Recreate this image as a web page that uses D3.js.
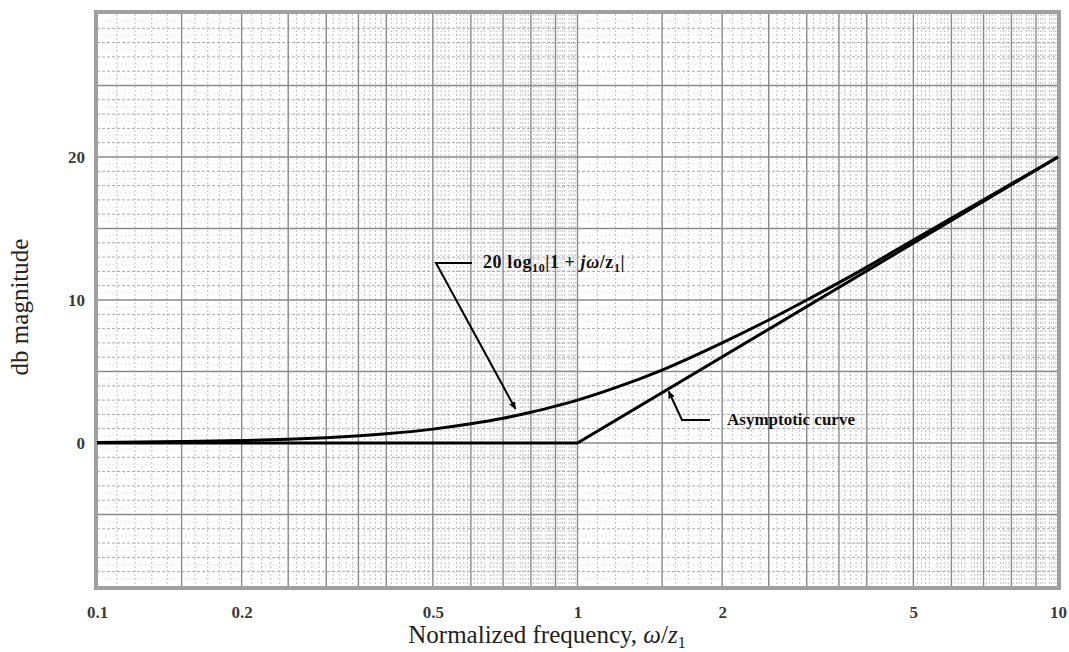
<!DOCTYPE html>
<html>
<head>
<meta charset="utf-8">
<script src="https://cdn.jsdelivr.net/npm/d3@7"></script>
<style>
body { margin: 0; background: #fff; }
svg { display: block; }
</style>
</head>
<body>
<svg id="chart"></svg>
<script>
// values
var freqTicks = [0.1, 0.2, 0.5, 1, 2, 5, 10];
var dbTicks = [0, 10, 20];
var exactFreq = [0.1, 0.15, 0.2, 0.25, 0.3, 0.4, 0.5, 0.6, 0.7, 0.8, 0.9, 1, 1.2, 1.5, 2, 2.5, 3, 4, 5, 7, 10];
var exactDb = [0.04, 0.1, 0.17, 0.26, 0.37, 0.64, 0.97, 1.34, 1.73, 2.15, 2.58, 3.0, 3.87, 5.1, 7.0, 8.6, 10.0, 12.3, 14.2, 17.0, 20.0];
var asymFreq = [0.1, 1, 10];
var asymDb = [0, 0, 20];

var w = 1069;
var h = 652;
var margin = {
	left: 97,
	right: 11,
	top: 14,
	bottom: 66
}

var svg = d3.select("#chart")
	.attr("width", w)
	.attr("height", h);

var xScale = d3.scaleLog()
	.domain([0.1, 10])
	.range([margin.left, w - margin.right]);
var yScale = d3.scaleLinear()
	.domain([-10, 30])
	.range([h - margin.bottom, margin.top]);

// graph paper
var grid = svg.append("g").classed("grid", true);
var heavyV = [];
var lightV = [];
[0.1, 1].forEach(function (d) {
	[1, 1.5, 2, 2.5, 3, 3.5, 4, 5, 6, 7, 8, 9].forEach(function (m) { heavyV.push(d * m); });
	for (var m = 1.1; m < 9.95; m += 0.1) {
		var v = Math.round(m * 10) / 10;
		if (v % 0.5 !== 0) lightV.push(d * v);
	}
});
var lightH = d3.range(-10, 30.1, 1).filter(function (d) { return d % 5 !== 0; });
var heavyH = d3.range(-5, 30, 5);
var halfH = d3.range(-9.5, 30, 1);

grid.selectAll(".lv")
	.data(lightV)
	.enter()
	.append("line")
	.attr("x1", function (d) { return xScale(d); })
	.attr("x2", function (d) { return xScale(d); })
	.attr("y1", margin.top)
	.attr("y2", h - margin.bottom)
	.attr("stroke", "#c4c4c4")
	.attr("stroke-width", 1)
	.attr("stroke-dasharray", "2,2");
grid.selectAll(".hh")
	.data(halfH)
	.enter()
	.append("line")
	.attr("x1", margin.left)
	.attr("x2", w - margin.right)
	.attr("y1", function (d) { return yScale(d); })
	.attr("y2", function (d) { return yScale(d); })
	.attr("stroke", "#d8d8d8")
	.attr("stroke-width", 1)
	.attr("stroke-dasharray", "1,3");
grid.selectAll(".lh")
	.data(lightH)
	.enter()
	.append("line")
	.attr("x1", margin.left)
	.attr("x2", w - margin.right)
	.attr("y1", function (d) { return yScale(d); })
	.attr("y2", function (d) { return yScale(d); })
	.attr("stroke", "#a8a8a8")
	.attr("stroke-width", 1)
	.attr("stroke-dasharray", "3,2");
grid.selectAll(".hv")
	.data(heavyV)
	.enter()
	.append("line")
	.attr("x1", function (d) { return xScale(d); })
	.attr("x2", function (d) { return xScale(d); })
	.attr("y1", margin.top)
	.attr("y2", h - margin.bottom)
	.attr("stroke", "#8a8a8a")
	.attr("stroke-width", 1.4);
grid.selectAll(".hhv")
	.data(heavyH)
	.enter()
	.append("line")
	.attr("x1", margin.left)
	.attr("x2", w - margin.right)
	.attr("y1", function (d) { return yScale(d); })
	.attr("y2", function (d) { return yScale(d); })
	.attr("stroke", "#8a8a8a")
	.attr("stroke-width", 1.4);

svg.append("rect")
	.attr("x", margin.left - 1)
	.attr("y", margin.top - 2)
	.attr("width", w - margin.left - margin.right + 2)
	.attr("height", h - margin.top - margin.bottom + 4)
	.attr("fill", "none")
	.attr("stroke", "#a0a0a0")
	.attr("stroke-width", 4);

// curves
var line = d3.line()
	.x(function (d) { return xScale(d[0]); })
	.y(function (d) { return yScale(d[1]); });
svg.append("path")
	.datum(d3.zip(exactFreq, exactDb))
	.attr("d", line.curve(d3.curveMonotoneX))
	.attr("fill", "none")
	.attr("stroke", "#000")
	.attr("stroke-width", 3);
svg.append("path")
	.datum(d3.zip(asymFreq, asymDb))
	.attr("d", line.curve(d3.curveLinear))
	.attr("fill", "none")
	.attr("stroke", "#000")
	.attr("stroke-width", 3);

// axes
var xAxis = d3.axisBottom(xScale)
	.tickValues(freqTicks)
	.tickSize(0)
	.tickPadding(20)
	.tickFormat(function (d) { return String(d); });
svg.append("g")
	.classed("xAxis", true)
	.attr("transform", "translate(0," + (h - margin.bottom) + ")")
	.call(xAxis)
	.call(function (g) { g.select(".domain").remove(); })
	.selectAll("text")
	.attr("font-family", "Liberation Serif")
	.attr("font-size", 17)
	.attr("font-weight", "bold")
	.attr("fill", "#3a3a3a");
var yAxis = d3.axisLeft(yScale)
	.tickValues(dbTicks)
	.tickSize(0)
	.tickPadding(12);
svg.append("g")
	.classed("yAxis", true)
	.attr("transform", "translate(" + margin.left + ",0)")
	.call(yAxis)
	.call(function (g) { g.select(".domain").remove(); })
	.selectAll("text")
	.attr("font-family", "Liberation Serif")
	.attr("font-size", 17)
	.attr("font-weight", "bold")
	.attr("fill", "#3a3a3a");

svg.append("text")
	.attr("x", 547)
	.attr("y", 643)
	.attr("text-anchor", "middle")
	.attr("font-family", "Liberation Serif")
	.attr("font-size", 25)
	.attr("fill", "#222")
	.html("Normalized frequency, <tspan font-style='italic'>ω</tspan>/<tspan font-style='italic'>z</tspan><tspan font-size='16' dy='5'>1</tspan>");
svg.append("text")
	.attr("transform", "translate(28,307) rotate(-90)")
	.attr("text-anchor", "middle")
	.attr("font-family", "Liberation Serif")
	.attr("font-size", 25)
	.attr("fill", "#222")
	.text("db magnitude");

// annotations
svg.append("defs").append("marker")
	.attr("id", "arrow")
	.attr("viewBox", "0 0 10 10")
	.attr("refX", 10)
	.attr("refY", 5)
	.attr("markerWidth", 7)
	.attr("markerHeight", 7)
	.attr("markerUnits", "userSpaceOnUse")
	.attr("orient", "auto")
	.append("path")
	.attr("d", "M0,0L10,5L0,10z")
	.attr("fill", "#000");

var exactTip = [0.75, 2.1];
var asymTip = [1.54, 3.9];
svg.append("path")
	.attr("d", "M472,263L436,263L" + (xScale(exactTip[0]) - 2) + "," + (yScale(exactTip[1]) - 4))
	.attr("fill", "none")
	.attr("stroke", "#000")
	.attr("stroke-width", 2)
	.attr("marker-end", "url(#arrow)");
svg.append("path")
	.attr("d", "M710,420L682,420L" + (xScale(asymTip[0]) + 1) + "," + (yScale(asymTip[1]) + 4))
	.attr("fill", "none")
	.attr("stroke", "#000")
	.attr("stroke-width", 2)
	.attr("marker-end", "url(#arrow)");

var lab1 = svg.append("text")
	.attr("x", 483)
	.attr("y", 268)
	.attr("font-family", "Liberation Serif")
	.attr("font-size", 18)
	.attr("font-weight", "bold")
	.attr("letter-spacing", 0.6)
	.attr("fill", "#111");
lab1.append("tspan").text("20 log");
lab1.append("tspan").attr("font-size", 12).attr("dy", 4).text("10");
lab1.append("tspan").attr("dy", -4).text("|1 + ");
lab1.append("tspan").attr("font-style", "italic").text("jω");
lab1.append("tspan").text("/z");
lab1.append("tspan").attr("font-size", 12).attr("dy", 4).text("1");
lab1.append("tspan").attr("dy", -4).text("|");

svg.append("text")
	.attr("x", 727)
	.attr("y", 425)
	.attr("font-family", "Liberation Serif")
	.attr("font-size", 17)
	.attr("font-weight", "bold")
	.attr("fill", "#111")
	.text("Asymptotic curve");
</script>
</body>
</html>
